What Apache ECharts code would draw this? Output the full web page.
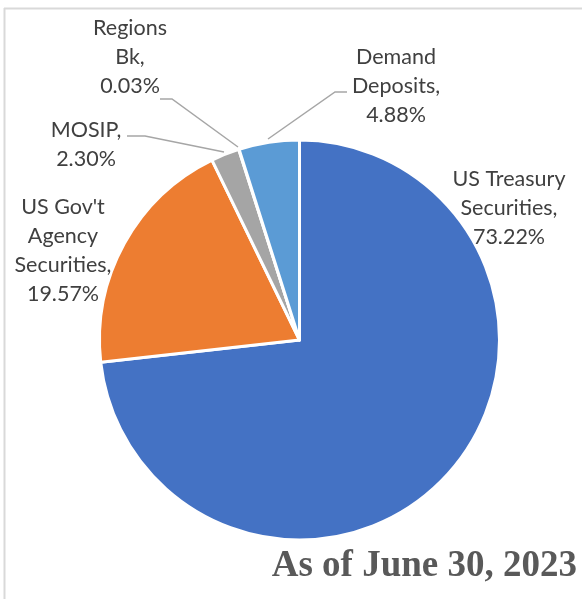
<!DOCTYPE html>
<html>
<head>
<meta charset="utf-8">
<script src="https://cdn.jsdelivr.net/npm/echarts@6/dist/echarts.min.js"></script>
<style>html,body{margin:0;padding:0;background:#fff;}#c{width:582px;height:599px;}</style>
</head>
<body>
<div id="c"></div>
<script>
const categories = ["US Treasury\nSecurities", "US Gov't\nAgency\nSecurities", "MOSIP", "Regions\nBk", "Demand\nDeposits"];
const values = [73.22, 19.57, 2.30, 0.03, 4.88];
const colors = ["#4472C4", "#ED7D31", "#A5A5A5", "#FFC000", "#5B9BD5"];
const titleText = "As of June 30, 2023";

// label placement (label centre + leader line), per slice
const labelPlaces = [
  { x: 509, y: 208 },
  { x: 63, y: 251 },
  { x: 86, y: 145, line: [[224, 152], [145, 136], [127, 136]] },
  { x: 130, y: 57, line: [[238, 147], [172, 99], [160, 99]] },
  { x: 396, y: 86, line: [[268, 139], [335, 92], [347, 92]] }
];

const chart = echarts.init(document.getElementById('c'), null, { renderer: 'canvas' });
chart.setOption({
  animation: false,
  backgroundColor: '#ffffff',
  graphic: [
    { type: 'line', shape: { x1: 4, y1: 8.5, x2: 582, y2: 8.5 }, style: { stroke: '#d9d9d9', lineWidth: 2 } },
    { type: 'line', shape: { x1: 4.5, y1: 8, x2: 4.5, y2: 599 }, style: { stroke: '#d9d9d9', lineWidth: 2 } },
    { type: 'text', right: 5, top: 548, style: { text: titleText, font: 'bold 37px "Liberation Serif", "Times New Roman", serif', fill: '#595959' } }
  ],
  series: [{
    type: 'pie',
    center: [299.5, 340],
    radius: [0, 200],
    startAngle: 90,
    clockwise: true,
    avoidLabelOverlap: false,
    itemStyle: { borderColor: '#ffffff', borderWidth: 3 },
    label: {
      show: true,
      position: 'outside',
      formatter: function (p) { return p.name + ',\n' + p.value.toFixed(2) + '%'; },
      fontFamily: 'Lato, "Open Sans", sans-serif',
      fontSize: 21.5,
      lineHeight: 29,
      color: '#404040',
      align: 'center'
    },
    labelLine: { show: true, lineStyle: { color: '#a6a6a6', width: 1.5 } },
    labelLayout: function (params) {
      const pl = labelPlaces[params.dataIndex];
      const r = { x: pl.x, y: pl.y, align: 'center', verticalAlign: 'middle' };
      if (pl.line) r.labelLinePoints = pl.line;
      return r;
    },
    data: categories.map(function (c, i) {
      const d = { name: c, value: values[i], itemStyle: { color: colors[i] } };
      if (!labelPlaces[i].line) d.labelLine = { show: false };
      return d;
    })
  }]
});
</script>
</body>
</html>
